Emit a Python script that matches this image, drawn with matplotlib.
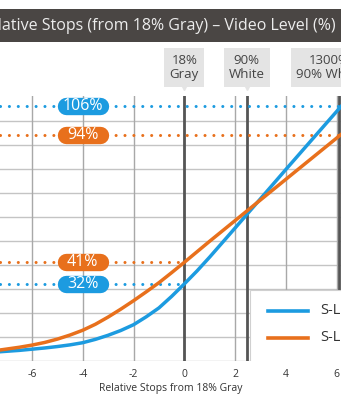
import numpy as np
import matplotlib
matplotlib.use("Agg")
import matplotlib.pyplot as plt
from matplotlib.patches import Rectangle
from matplotlib.transforms import blended_transform_factory

# ---- data ----
stops = [-7.3, -6.5, -6.0, -5.5, -5.0, -4.5, -4.0, -3.5, -3.0, -2.5, -2.0,
         -1.5, -1.0, -0.5, 0.0, 0.5, 1.0, 2.0, 3.0, 4.0, 5.0, 6.2]
slog2 = [3.7, 4.3, 4.8, 5.3, 5.9, 6.6, 7.5, 8.9, 10.6, 12.6, 15.0,
         18.3, 22.0, 26.8, 32.0, 37.4, 43.2, 55.3, 67.5, 79.7, 91.8, 106.3]
slog3 = [4.4, 5.6, 6.5, 7.6, 9.0, 10.7, 12.7, 15.2, 18.2, 21.5, 25.0,
         28.7, 32.5, 36.7, 41.0, 45.4, 49.8, 58.4, 67.0, 75.6, 84.2, 94.5]
series_names = ["S-Log2", "S-Log3"]
series_colors = ["#1c9be0", "#e8701c"]

# marked levels: (value, series index)
marked_levels = [(106, 0), (94, 1), (41, 1), (32, 0)]

# reference stop lines with their captions
ref_stops = [0.0, 2.46, 6.1]
ref_captions = ["18%\nGray", "90%\nWhite", "1300%\n90% White"]
caption_x = [0.0, 2.46, 5.7]

x_ticks = [-6, -4, -2, 0, 2, 4, 6]
title = "Relative Stops (from 18% Gray) \u2013 Video Level (%)"
x_label = "Relative Stops from 18% Gray"

plt.rcParams["font.family"] = ["Open Sans", "DejaVu Sans"]
plt.rcParams["axes.unicode_minus"] = False

fig = plt.figure(figsize=(3.41, 4.0), dpi=100)
fig.patch.set_facecolor("white")

# title band
fig.patches.append(Rectangle((0, 1 - 42 / 400), 1, 33 / 400, transform=fig.transFigure,
                             facecolor="#4a4644", edgecolor="none", zorder=0))
fig.text(0.985, 1 - 25.5 / 400, title, ha="right", va="center", color="#ececec",
         fontsize=11.5)

ax = fig.add_axes([0, 1 - 360.7 / 400, 1, (360.7 - 96) / 400])
ax.set_xlim(-7.26, 6.17)
ax.set_ylim(0, 110.3)
for s in ax.spines.values():
    s.set_visible(False)

# grid
for yv in range(0, 101, 10):
    ax.axhline(yv, color="#c4c4c4", lw=1.0, zorder=1)
for xv in x_ticks:
    ax.axvline(xv, color="#a8a8a8", lw=1.0, zorder=1)

# reference stop lines
for xv in ref_stops:
    ax.axvline(xv, color="#555555", lw=2.0, zorder=2)

series = [slog2, slog3]

# dotted level lines with pill labels
for val, idx in marked_levels:
    col = series_colors[idx]
    x_end = np.interp(val, series[idx], stops)
    ax.plot([-7.26, x_end], [val, val], color=col, lw=2.2,
            linestyle=(0, (0.01, 2.9)), dash_capstyle="round", zorder=3)
    ax.plot([-4.68, -3.32], [val, val], color=col, lw=12.5,
            solid_capstyle="round", zorder=5)
    ax.text(-4.0, val, f"{val}%", color="white", fontsize=11.5, ha="center",
            va="center", zorder=6)

# curves
for ys, col in zip(series, series_colors):
    ax.plot(stops, ys, color=col, lw=2.5, solid_capstyle="round", zorder=4)

# legend box
ax.add_patch(Rectangle((0.733, -0.01), 0.4, 0.277, transform=ax.transAxes,
                       facecolor="white", edgecolor="#d0d0d0", lw=0.8, zorder=7))
for i, (name, col) in enumerate(zip(series_names, series_colors)):
    yy = [0.188, 0.086][i]
    ax.plot([0.786, 0.903], [yy, yy], transform=ax.transAxes, color=col, lw=2.6,
            zorder=8)
    ax.text(0.938, yy, name, transform=ax.transAxes, fontsize=10.5, color="#333333",
            va="center", ha="left", zorder=8)

# captions above reference lines
trans = blended_transform_factory(ax.transData, fig.transFigure)
for i, (cx, cap) in enumerate(zip(caption_x, ref_captions)):
    ax.text(cx, 1 - 67.5 / 400, cap, transform=trans, ha="center", va="center",
            fontsize=9.5, color="#444444", linespacing=1.15, clip_on=False,
            bbox=dict(boxstyle="square,pad=0.4", facecolor="#e4e4e4",
                      edgecolor="none"))
    if i < 2:
        ax.plot([cx], [1 - 86 / 400], transform=trans, marker="v", markersize=6,
                color="#e4e4e4", clip_on=False)

# axis ticks
ax.set_xticks(x_ticks)
ax.set_xticklabels([str(t) for t in x_ticks])
ax.set_yticks([])
ax.tick_params(axis="x", length=0, pad=6, labelsize=7.5, labelcolor="#333333")
ax.set_xlabel(x_label, fontsize=7.5, color="#333333", labelpad=2)

fig.savefig("out.png", dpi=100, facecolor="white")
